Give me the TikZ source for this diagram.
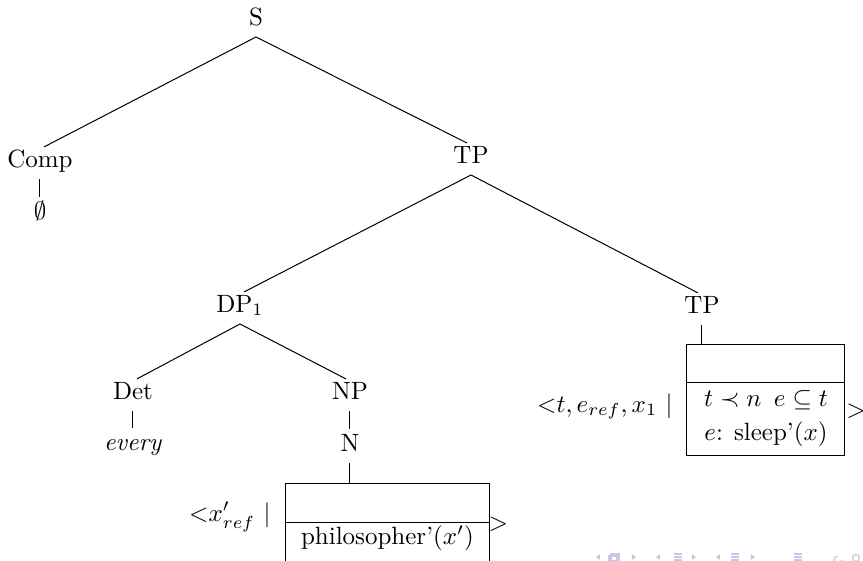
\documentclass[tikz,border=0pt]{standalone}
\usetikzlibrary{calc}

\definecolor{navblue}{RGB}{200,200,232}

\tikzset{
  cat/.style={inner sep=0pt,text height=7pt,text depth=4.6pt,anchor=base},
  branch/.style={shorten >=1.8pt},
  drsbox/.style={draw,inner sep=0pt,outer sep=0pt,anchor=north},
  ctx/.style={inner sep=0pt}
}

\begin{document}
\begin{tikzpicture}[x=0.4pt,y=-0.4pt]
  \useasboundingbox (0,0) rectangle (863,561);
  \clip (0,0) rectangle (863,561);

  % tree
  \node[cat] (S) at (256,25) {S};
  \node[cat] (Comp) at (40,167) {Comp};
  \node[cat] (empty) at (40,219) {$\emptyset$};
  \node[cat] (TP) at (471,163) {TP};
  \node[cat] (DP) at (240,312) {DP$_1$};
  \node[cat] (TPlow) at (702,313) {TP};
  \node[cat] (Det) at (133,399) {Det};
  \node[cat] (every) at (133,450) {\textit{every}};
  \node[cat] (NP) at (350,399) {NP};
  \node[cat] (N) at (350,451) {N};

  \draw[branch] (S.south) -- (Comp.north);
  \draw[branch] (S.south) -- (TP.north);
  \draw[branch] (Comp.south) -- (empty.north);
  \draw[branch] (TP.south) -- (DP.north);
  \draw[branch] (TP.south) -- (TPlow.north);
  \draw[branch] (DP.south) -- (Det.north);
  \draw[branch] (DP.south) -- (NP.north);
  \draw[branch] (Det.south) -- (every.north);
  \draw[branch] (NP.south) -- (N.north);

  % DRS for N
  \node[drsbox,minimum width=81.2pt,minimum height=15.6pt] (drs1top) at (387.5,483) {};
  \node[drsbox,minimum width=81.2pt,text height=9pt,text depth=12pt]
    (drs1body) at (drs1top.south) {philosopher'$(x')$};
  \draw (N.south) -- (N.south |- drs1top.north);
  \node[ctx,anchor=base east] (ctx1) at (271,521) {${<}x'_{ref}$ $|$};
  \node[ctx,anchor=base west] (close1) at (488,530) {$>$};

  % DRS for lower TP
  \node[drsbox,minimum width=63.2pt,minimum height=15.2pt] (drs2top) at (766,344) {};
  \node[drsbox,minimum width=63.2pt,minimum height=29.2pt,align=center]
    (drs2body) at (drs2top.south)
    {$t \prec n\enspace e \subseteq t$\\[1.5pt] $e$: sleep'$(x)$};
  \draw (TPlow.south) -- (TPlow.south |- drs2top.north);
  \node[ctx,anchor=base east] (ctx2) at (673,412) {${<}t, e_{ref}, x_1$ $|$};
  \node[ctx,anchor=base west] (close2) at (846,417) {$>$};

  % navigation symbols
  \foreach \x in {598,658,718}
    \fill[navblue] (\x+2,554) -- (\x-2,557) -- (\x+2,560) -- cycle;
  \foreach \x in {634,694,753}
    \fill[navblue] (\x-2,554) -- (\x+2,557) -- (\x-2,560) -- cycle;
  \foreach \x in {678,735,798}
    \foreach \y in {554,557,560}
      \draw[navblue,line width=0.5pt] (\x-4,\y) -- (\x+4,\y);
  \draw[navblue,line width=0.5pt] (609,556) rectangle (617,563) (611,554) rectangle (619,561);
  \draw[navblue,line width=0.5pt] (842,560) arc (0:270:4);
  \draw[navblue,line width=0.5pt] (856,558) circle (3.5);
\end{tikzpicture}
\end{document}
